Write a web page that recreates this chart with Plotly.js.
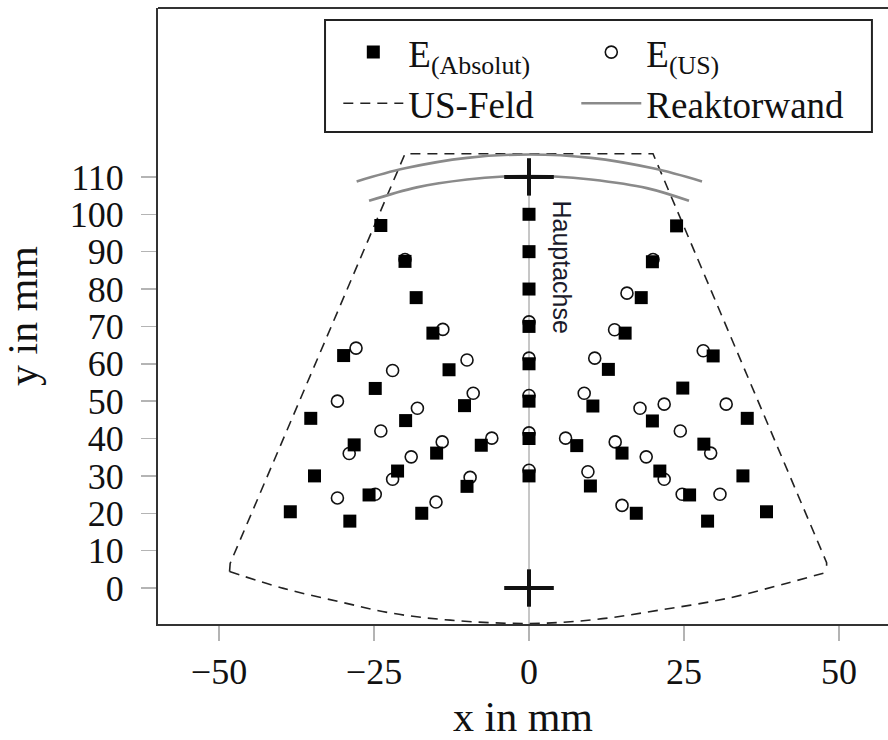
<!DOCTYPE html>
<html>
<head>
<meta charset="utf-8">
<script src="https://cdn.plot.ly/plotly-3.0.1.min.js"></script>
<style>html,body{margin:0;padding:0;background:#fff;}#chart{width:888px;height:740px;}</style>
</head>
<body>
<div id="chart"></div>
<script>
// E(Absolut) measured positions (filled squares)
const absX = [0,0,0,0,0,0,0,0,
  -23.9,-20.0,-18.2,-15.5,-12.9,-10.4,-7.7,
  -29.9,-24.8,-19.9,-14.9,-10.0,
  -35.2,-28.2,-21.2,-17.3,
  -34.6,-25.8,
  -38.5,-28.9,
  23.8,19.9,18.1,15.5,12.8,10.3,7.7,
  29.7,24.8,19.9,15.0,9.9,
  35.2,28.2,21.1,17.3,
  34.5,25.9,
  38.3,28.8];
const absY = [100,90,80,70,60,50,40,30,
  97.0,87.4,77.7,68.2,58.4,48.8,38.2,
  62.2,53.4,44.8,36.1,27.2,
  45.4,38.3,31.3,20.0,
  30.0,24.9,
  20.4,17.9,
  96.9,87.3,77.7,68.2,58.5,48.7,38.1,
  62.1,53.5,44.7,36.1,27.3,
  45.4,38.5,31.3,20.0,
  30.0,24.9,
  20.4,17.9];

// E(US) positions (open circles)
const usX = [0,0,0,0,0,
  -20.0,-13.9,-27.9,-10.0,-22.0,-9.0,-30.9,-18.0,-23.9,-14.0,-6.0,-29.0,-19.0,-22.0,-9.5,-30.9,-24.8,-15.0,
  20.0,15.8,13.8,28.1,10.6,8.9,17.9,21.8,31.8,5.9,13.9,24.4,29.3,18.9,21.8,9.5,24.7,30.8,15.0];
const usY = [71.2,61.5,51.5,41.5,31.5,
  87.9,69.2,64.2,61.0,58.2,52.1,50.0,48.1,42.0,39.1,40.1,36.0,35.1,29.1,29.6,24.1,25.1,23.0,
  87.9,78.9,69.1,63.5,61.5,52.1,48.1,49.2,49.2,40.1,39.1,42.0,36.1,35.1,29.1,31.1,25.1,25.1,22.1];

// US-Feld outline (straight part) and bottom arc
const fieldX = [-48.3,-48.2,-20.0,20.0,48.0,48.0];
const fieldY = [4.4,6.6,116.2,116.2,6.8,4.2];
const arcX = [-48.3,-39.6,-30.5,-21.9,-12.7,0,10.9,21.1,31.9,41.6,48.0];
const arcY = [4.4,-0.1,-3.7,-6.8,-8.6,-9.5,-8.4,-5.9,-2.8,1.3,4.2];

// Reaktorwand (two arcs)
const wallOuterX = [-27.8,-20.0,-10.0,0,10.0,20.0,27.9];
const wallOuterY = [108.8,112.3,115.1,116.0,115.1,112.3,108.8];
const wallInnerX = [-25.8,-18.1,-10.0,-4.1,0,4.1,10.0,19.0,25.8];
const wallInnerY = [103.6,107.2,109.3,110.1,110.2,110.1,109.3,107.0,103.6];

// Hauptachse and transducer crosses
const axisX = [0,0];
const axisY = [-10,110];
const crossX = [0,0];
const crossY = [110,0];
const crossArmX = 4;
const crossArmY = 5;

const cx = [], cy = [];
for (let i = 0; i < crossX.length; i++) {
  cx.push(crossX[i]-crossArmX, crossX[i]+crossArmX, null, crossX[i], crossX[i], null);
  cy.push(crossY[i], crossY[i], null, crossY[i]-crossArmY, crossY[i]+crossArmY, null);
}

const serif = "Liberation Serif, Times New Roman, serif";

const traces = [
  {x: axisX, y: axisY, mode: 'lines', line: {color: '#b4b4b4', width: 1.5}, showlegend: false, hoverinfo: 'skip'},
  {x: fieldX, y: fieldY, mode: 'lines', name: 'US-Feld', legendgroup: 'f', legendrank: 2, legend: 'legend',
   line: {color: '#222', width: 1.6, dash: '10px,7px'}},
  {x: arcX, y: arcY, mode: 'lines', legendgroup: 'f', showlegend: false,
   line: {color: '#222', width: 1.6, dash: '10px,7px', shape: 'spline'}},
  {x: wallOuterX.concat([null], wallInnerX), y: wallOuterY.concat([null], wallInnerY), mode: 'lines',
   name: 'Reaktorwand', legendrank: 2, legend: 'legend2', connectgaps: false,
   line: {color: '#8a8a8a', width: 2.6, shape: 'spline'}},
  {x: cx, y: cy, mode: 'lines', line: {color: '#111', width: 4}, showlegend: false, hoverinfo: 'skip'},
  {x: usX, y: usY, mode: 'markers', name: 'E<sub>(US)</sub>', legendrank: 1, legend: 'legend2',
   marker: {symbol: 'circle-open', size: 12, color: '#111', line: {width: 1.6, color: '#111'}}},
  {x: absX, y: absY, mode: 'markers', name: 'E<sub>(Absolut)</sub>', legendrank: 1, legend: 'legend',
   marker: {symbol: 'square', size: 13, color: '#000'}}
];

const legBase = {
  orientation: 'v', yanchor: 'top', xanchor: 'left', y: 0.978,
  bgcolor: 'rgba(0,0,0,0)', borderwidth: 0, tracegroupgap: 0,
  font: {family: serif, size: 37, color: '#111'},
  itemwidth: 60
};

const layout = {
  width: 888, height: 740,
  margin: {l: 158, r: 0, t: 8, b: 116},
  paper_bgcolor: '#fff', plot_bgcolor: '#fff',
  font: {family: serif, color: '#111', size: 36},
  showlegend: true,
  legend: Object.assign({}, legBase, {x: 0.247}),
  legend2: Object.assign({}, legBase, {x: 0.573}),
  xaxis: {
    range: [-59.84, 57.9], tickvals: [-50,-25,0,25,50],
    ticks: 'outside', ticklen: 15, tickwidth: 1.5, tickcolor: '#b4b4b4',
    showline: true, linecolor: '#333', linewidth: 2, mirror: false,
    showgrid: false, zeroline: false,
    tickfont: {family: serif, size: 36, color: '#111'},
    title: {text: 'x in mm', font: {family: serif, size: 42, color: '#111'}, standoff: 14},
    automargin: false
  },
  yaxis: {
    range: [-9.63, 155.2], tickvals: [0,10,20,30,40,50,60,70,80,90,100,110],
    ticks: 'outside', ticklen: 15, tickwidth: 1.5, tickcolor: '#b4b4b4',
    showline: true, linecolor: '#333', linewidth: 2, mirror: false,
    showgrid: false, zeroline: false,
    tickfont: {family: serif, size: 36, color: '#111'},
    ticklabelstandoff: 10,
    title: {text: 'y in mm', font: {family: serif, size: 42, color: '#111'}, standoff: 24},
    automargin: false
  },
  shapes: [
    {type: 'line', xref: 'paper', yref: 'paper', x0: 0, x1: 1, y0: 1, y1: 1, line: {color: '#333', width: 2}},
    {type: 'rect', xref: 'paper', yref: 'paper', x0: 0.2288, x1: 0.978, y0: 0.7987, y1: 0.9805,
     line: {color: '#222', width: 2}, fillcolor: 'rgba(0,0,0,0)'}
  ],
  annotations: [
    {x: 5.3, y: 85.8, xref: 'x', yref: 'y', text: 'Hauptachse', showarrow: false, textangle: 90,
     font: {family: 'Liberation Sans, Arial, sans-serif', size: 25, color: '#1a1a2a'}}
  ]
};

Plotly.newPlot('chart', traces, layout, {displayModeBar: false, staticPlot: true});
</script>
</body>
</html>
